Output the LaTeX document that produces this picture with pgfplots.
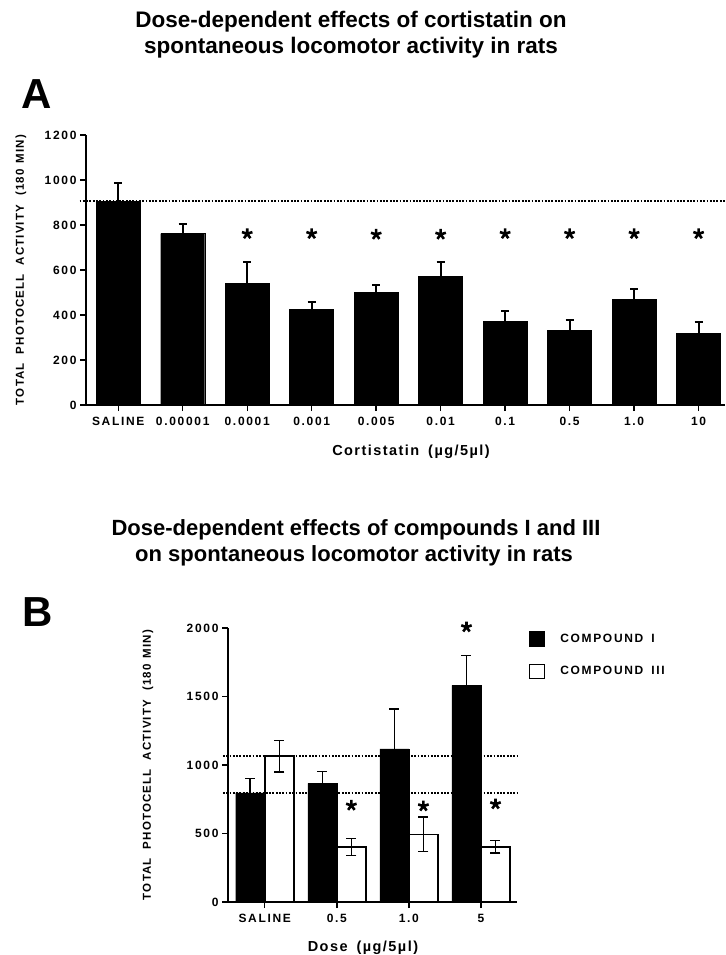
\documentclass[border=0pt]{standalone}
\usepackage{fontspec}
\setmainfont{Liberation Sans}
\newfontfamily\spaced[LetterSpace=14]{Liberation Sans}
\newfontfamily\ylabfont[LetterSpace=10]{Liberation Sans}
\newfontfamily\lblfont[LetterSpace=10]{Liberation Sans}
\usepackage{pgfplots}
\pgfplotsset{compat=1.18}

\pgfplotsset{
  photo/.style={
    scale only axis,
    axis lines=left,
    axis line style={line width=1.6pt,-},
    tick align=outside,
    major tick length=6pt,
    tick style={line width=1.4pt,black},
    /pgf/number format/assume math mode=true,
    /pgf/number format/1000 sep={},
    tick label style={font=\spaced\bfseries\fontsize{12}{14}\selectfont},
    ylabel style={font=\ylabfont\bfseries\fontsize{11.5}{13}\selectfont},
    xlabel style={font=\lblfont\bfseries\fontsize{14.5}{16}\selectfont},
    xticklabel style={yshift=-3pt},
    clip=false,
  },
}

\begin{document}
\begin{tikzpicture}
\useasboundingbox (0,0) rectangle (725pt,-955pt);

% titles
\node[font=\bfseries\fontsize{22.5}{24}\selectfont] at (351pt,-22pt) {Dose-dependent effects of cortistatin on};
\node[font=\bfseries\fontsize{22.5}{24}\selectfont] at (351pt,-48pt) {spontaneous locomotor activity in rats};
\node[font=\bfseries\fontsize{42}{44}\selectfont] at (37pt,-94pt) {A};
\node[font=\bfseries\fontsize{22}{24}\selectfont] at (356pt,-530pt) {Dose-dependent effects of compounds I and III};
\node[font=\bfseries\fontsize{22}{24}\selectfont] at (354pt,-556pt) {on spontaneous locomotor activity in rats};
\node[font=\bfseries\fontsize{42}{44}\selectfont] at (38pt,-612pt) {B};

% panel A
\begin{axis}[photo,
  at={(86pt,-405pt)}, anchor=south west,
  width=639pt, height=270pt,
  xmin=-0.5, xmax=9.41, ymin=0, ymax=1200,
  xtick={0,...,9},
  xticklabels={SALINE,0.00001,0.0001,0.001,0.005,0.01,0.1,0.5,1.0,10},
  ytick={0,200,...,1200},
  xlabel={Cortistatin\hspace{9pt}(µg/5µl)},
  xlabel style={at={(axis description cs:0.5086,-0.174)},anchor=center},
  ylabel={TOTAL\hspace{9pt}PHOTOCELL\hspace{9pt}ACTIVITY\hspace{9pt}(180\hspace{6pt}MIN)},
  ylabel style={at={(axis description cs:-0.1017,0.5)},anchor=center},
]
\addplot[ybar, bar width=44pt, fill=black, draw=black,
  error bars/.cd, y dir=plus, y explicit,
  error bar style={line width=2pt},
  error mark options={rotate=90, line width=2pt, mark size=4pt}]
  table[x=x, y=y, y error=e] {
x y e
0 904 82
1 762 43
2 541 93
3 424 33
4 500 33
5 572 62
6 372 48
7 332 46
8 470 44
9 319 52
};
% control mean
\addplot[black, line width=1.8pt, dash pattern=on 1.8pt off 1.5pt]
  coordinates {(-0.6,907) (9.41,907)};
% significance
\addplot[only marks, mark=star, mark size=5.5pt, line width=2.6pt, black]
  coordinates {(2,761) (3,761) (4,758) (5,758) (6,761) (7,761) (8,761) (9,761)};
\end{axis}

% panel B
\begin{axis}[photo,
  at={(228pt,-902pt)}, anchor=south west,
  width=289pt, height=274pt,
  xmin=-0.51, xmax=3.5, ymin=0, ymax=2000,
  xtick={0,...,3},
  xticklabels={SALINE,0.5,1.0,5},
  ytick={0,500,...,2000},
  xlabel={Dose\hspace{9pt}(µg/5µl)},
  xlabel style={at={(axis description cs:0.467,-0.168)},anchor=center},
  ylabel={TOTAL\hspace{9pt}PHOTOCELL\hspace{9pt}ACTIVITY\hspace{9pt}(180\hspace{6pt}MIN)},
  ylabel style={at={(axis description cs:-0.277,0.5)},anchor=center},
  legend style={at={(1.04,0.989)}, anchor=north west, draw=none, fill=none,
    inner sep=0pt, row sep=17pt,
    font=\spaced\bfseries\fontsize{12}{14}\selectfont},
  legend cell align=left,
]
\addplot[ybar, bar width=29pt, fill=black, draw=black,
  legend image code/.code={\draw[fill=black,draw=black,line width=1.5pt] (0pt,-7pt) rectangle (15pt,7pt);},
  error bars/.cd, y dir=plus, y explicit,
  error bar style={line width=1.5pt},
  error mark options={rotate=90, line width=1.5pt, mark size=5pt}]
  table[x expr=\thisrow{x}-0.2014, y=y, y error=e] {
x y e
0 797 103
1 866 88
2 1117 291
3 1582 218
};
\addlegendentry{\hspace{13pt}COMPOUND\hspace{8pt}I}
\addplot[ybar, bar width=29pt, fill=white, draw=black, line width=1.5pt,
  legend image code/.code={\draw[fill=white,draw=black,line width=1.5pt] (0pt,-7pt) rectangle (15pt,7pt);},
  error bars/.cd, y dir=both, y explicit,
  error bar style={line width=1.5pt},
  error mark options={rotate=90, line width=1.5pt, mark size=5pt}]
  table[x expr=\thisrow{x}+0.2014, y=y, y error=e] {
x y e
0 1064 115
1 403 62
2 494 125
3 403 47
};
\addlegendentry{\hspace{13pt}COMPOUND\hspace{8pt}III}
% control means
\addplot[forget plot, black, line width=1.8pt, dash pattern=on 1.8pt off 1.5pt]
  coordinates {(-0.58,1064) (3.5,1064)};
\addplot[forget plot, black, line width=1.8pt, dash pattern=on 1.8pt off 1.5pt]
  coordinates {(-0.58,795) (3.5,795)};
% significance
\addplot[forget plot, only marks, mark=star, mark size=5.5pt, line width=2.6pt, black]
  coordinates {(2.7986,2007) (1.2014,705) (2.2014,700) (3.2014,715)};
\end{axis}
\end{tikzpicture}
\end{document}
